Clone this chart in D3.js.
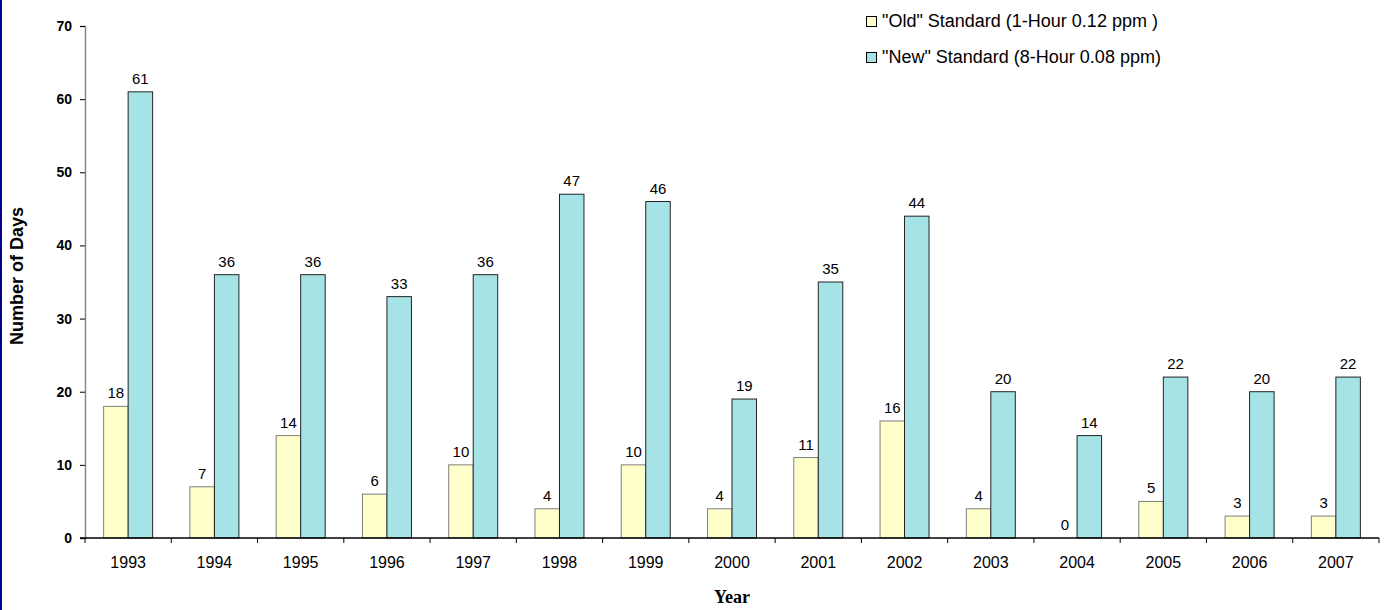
<!DOCTYPE html>
<html>
<head>
<meta charset="utf-8">
<script src="https://cdn.jsdelivr.net/npm/d3@7"></script>
<style>
  body { margin: 0; background: #fff; }
  svg { display: block; font-family: Arial, "Liberation Sans", sans-serif; }
</style>
</head>
<body>
<svg width="1384" height="610"></svg>
<script>
// chart data
var years = ['1993','1994','1995','1996','1997','1998','1999','2000','2001','2002','2003','2004','2005','2006','2007'];
var oldStd = [18, 7, 14, 6, 10, 4, 10, 4, 11, 16, 4, 0, 5, 3, 3];
var newStd = [61, 36, 36, 33, 36, 47, 46, 19, 35, 44, 20, 14, 22, 20, 22];
var seriesNames = ['"Old" Standard (1-Hour 0.12 ppm )', '"New" Standard (8-Hour 0.08 ppm)'];
var yTicks = [0, 10, 20, 30, 40, 50, 60, 70];

var svg = d3.select('svg');
var padding = {t: 26, r: 5, b: 72, l: 85};
var svgWidth = +svg.attr('width');
var svgHeight = +svg.attr('height');
var chartWidth = svgWidth - padding.l - padding.r;
var chartHeight = svgHeight - padding.t - padding.b;

// left border
svg.append('rect')
    .attr('x', 0).attr('y', 0)
    .attr('width', 2).attr('height', svgHeight)
    .attr('fill', '#000088');

var chartG = svg.append('g')
    .attr('transform', 'translate(' + [padding.l, padding.t] + ')');

var x = d3.scaleBand().domain(years).range([0, chartWidth]);
var y = d3.scaleLinear().domain([0, 70]).range([chartHeight, 0]);
var barW = x.bandwidth() * 0.284;

var fills = ['#ffffcc', '#a6e3e6'];
var strokes = ['#7f7f7f', '#222222'];
var series = [oldStd, newStd];

// y axis
var yAxis = chartG.append('g')
    .call(d3.axisLeft(y).tickValues(yTicks).tickSize(5).tickPadding(8));
yAxis.select('.domain').attr('stroke', '#888').attr('stroke-width', 1.5);
yAxis.selectAll('.tick line').attr('stroke', '#000');
yAxis.selectAll('text')
    .style('font-size', '14px')
    .style('font-weight', 'bold')
    .attr('fill', '#000');

// bars
series.forEach(function(vals, s) {
    var g = chartG.append('g');
    g.selectAll('rect')
        .data(vals)
        .enter()
        .append('rect')
        .attr('x', function(d, i) { return x(years[i]) + x.bandwidth() / 2 + (s - 1) * barW; })
        .attr('y', function(d) { return y(d); })
        .attr('width', barW)
        .attr('height', function(d) { return y(0) - y(d); })
        .attr('fill', fills[s])
        .attr('stroke', strokes[s])
        .attr('stroke-width', 1);
    g.selectAll('text')
        .data(vals)
        .enter()
        .append('text')
        .attr('x', function(d, i) { return x(years[i]) + x.bandwidth() / 2 + (s - 0.5) * barW; })
        .attr('y', function(d) { return y(d) - 8; })
        .attr('text-anchor', 'middle')
        .style('font-size', '15px')
        .text(function(d) { return d; });
});

// x axis
var xAxisG = chartG.append('g')
    .attr('transform', 'translate(0,' + chartHeight + ')');
xAxisG.append('line')
    .attr('x1', -5).attr('x2', chartWidth)
    .attr('stroke', '#000').attr('stroke-width', 1.5);
xAxisG.selectAll('.sep')
    .data(years.concat(['end']))
    .enter()
    .append('line')
    .attr('x1', function(d, i) { return i * x.step(); })
    .attr('x2', function(d, i) { return i * x.step(); })
    .attr('y1', 0).attr('y2', 5)
    .attr('stroke', '#000');
xAxisG.selectAll('.lbl')
    .data(years)
    .enter()
    .append('text')
    .attr('x', function(d) { return x(d) + x.bandwidth() / 2; })
    .attr('y', 30)
    .attr('text-anchor', 'middle')
    .style('font-size', '16px')
    .text(function(d) { return d; });

// axis titles
svg.append('text')
    .attr('x', padding.l + chartWidth / 2)
    .attr('y', 603)
    .attr('text-anchor', 'middle')
    .style('font-family', '"Liberation Serif", "Times New Roman", serif')
    .style('font-weight', 'bold')
    .style('font-size', '18px')
    .text('Year');

svg.append('text')
    .attr('transform', 'translate(23,' + (padding.t + chartHeight / 2 - 6) + ') rotate(-90)')
    .attr('text-anchor', 'middle')
    .style('font-weight', 'bold')
    .style('font-size', '18px')
    .text('Number of Days');

// legend
var legend = svg.append('g').attr('transform', 'translate(866,0)');
seriesNames.forEach(function(name, i) {
    legend.append('rect')
        .attr('x', 0.5).attr('y', 16.5 + i * 36)
        .attr('width', 10).attr('height', 10)
        .attr('fill', fills[i])
        .attr('stroke', '#000');
    legend.append('text')
        .attr('x', 16).attr('y', 27 + i * 36)
        .style('font-size', '18px')
        .text(name);
});
</script>
</body>
</html>
